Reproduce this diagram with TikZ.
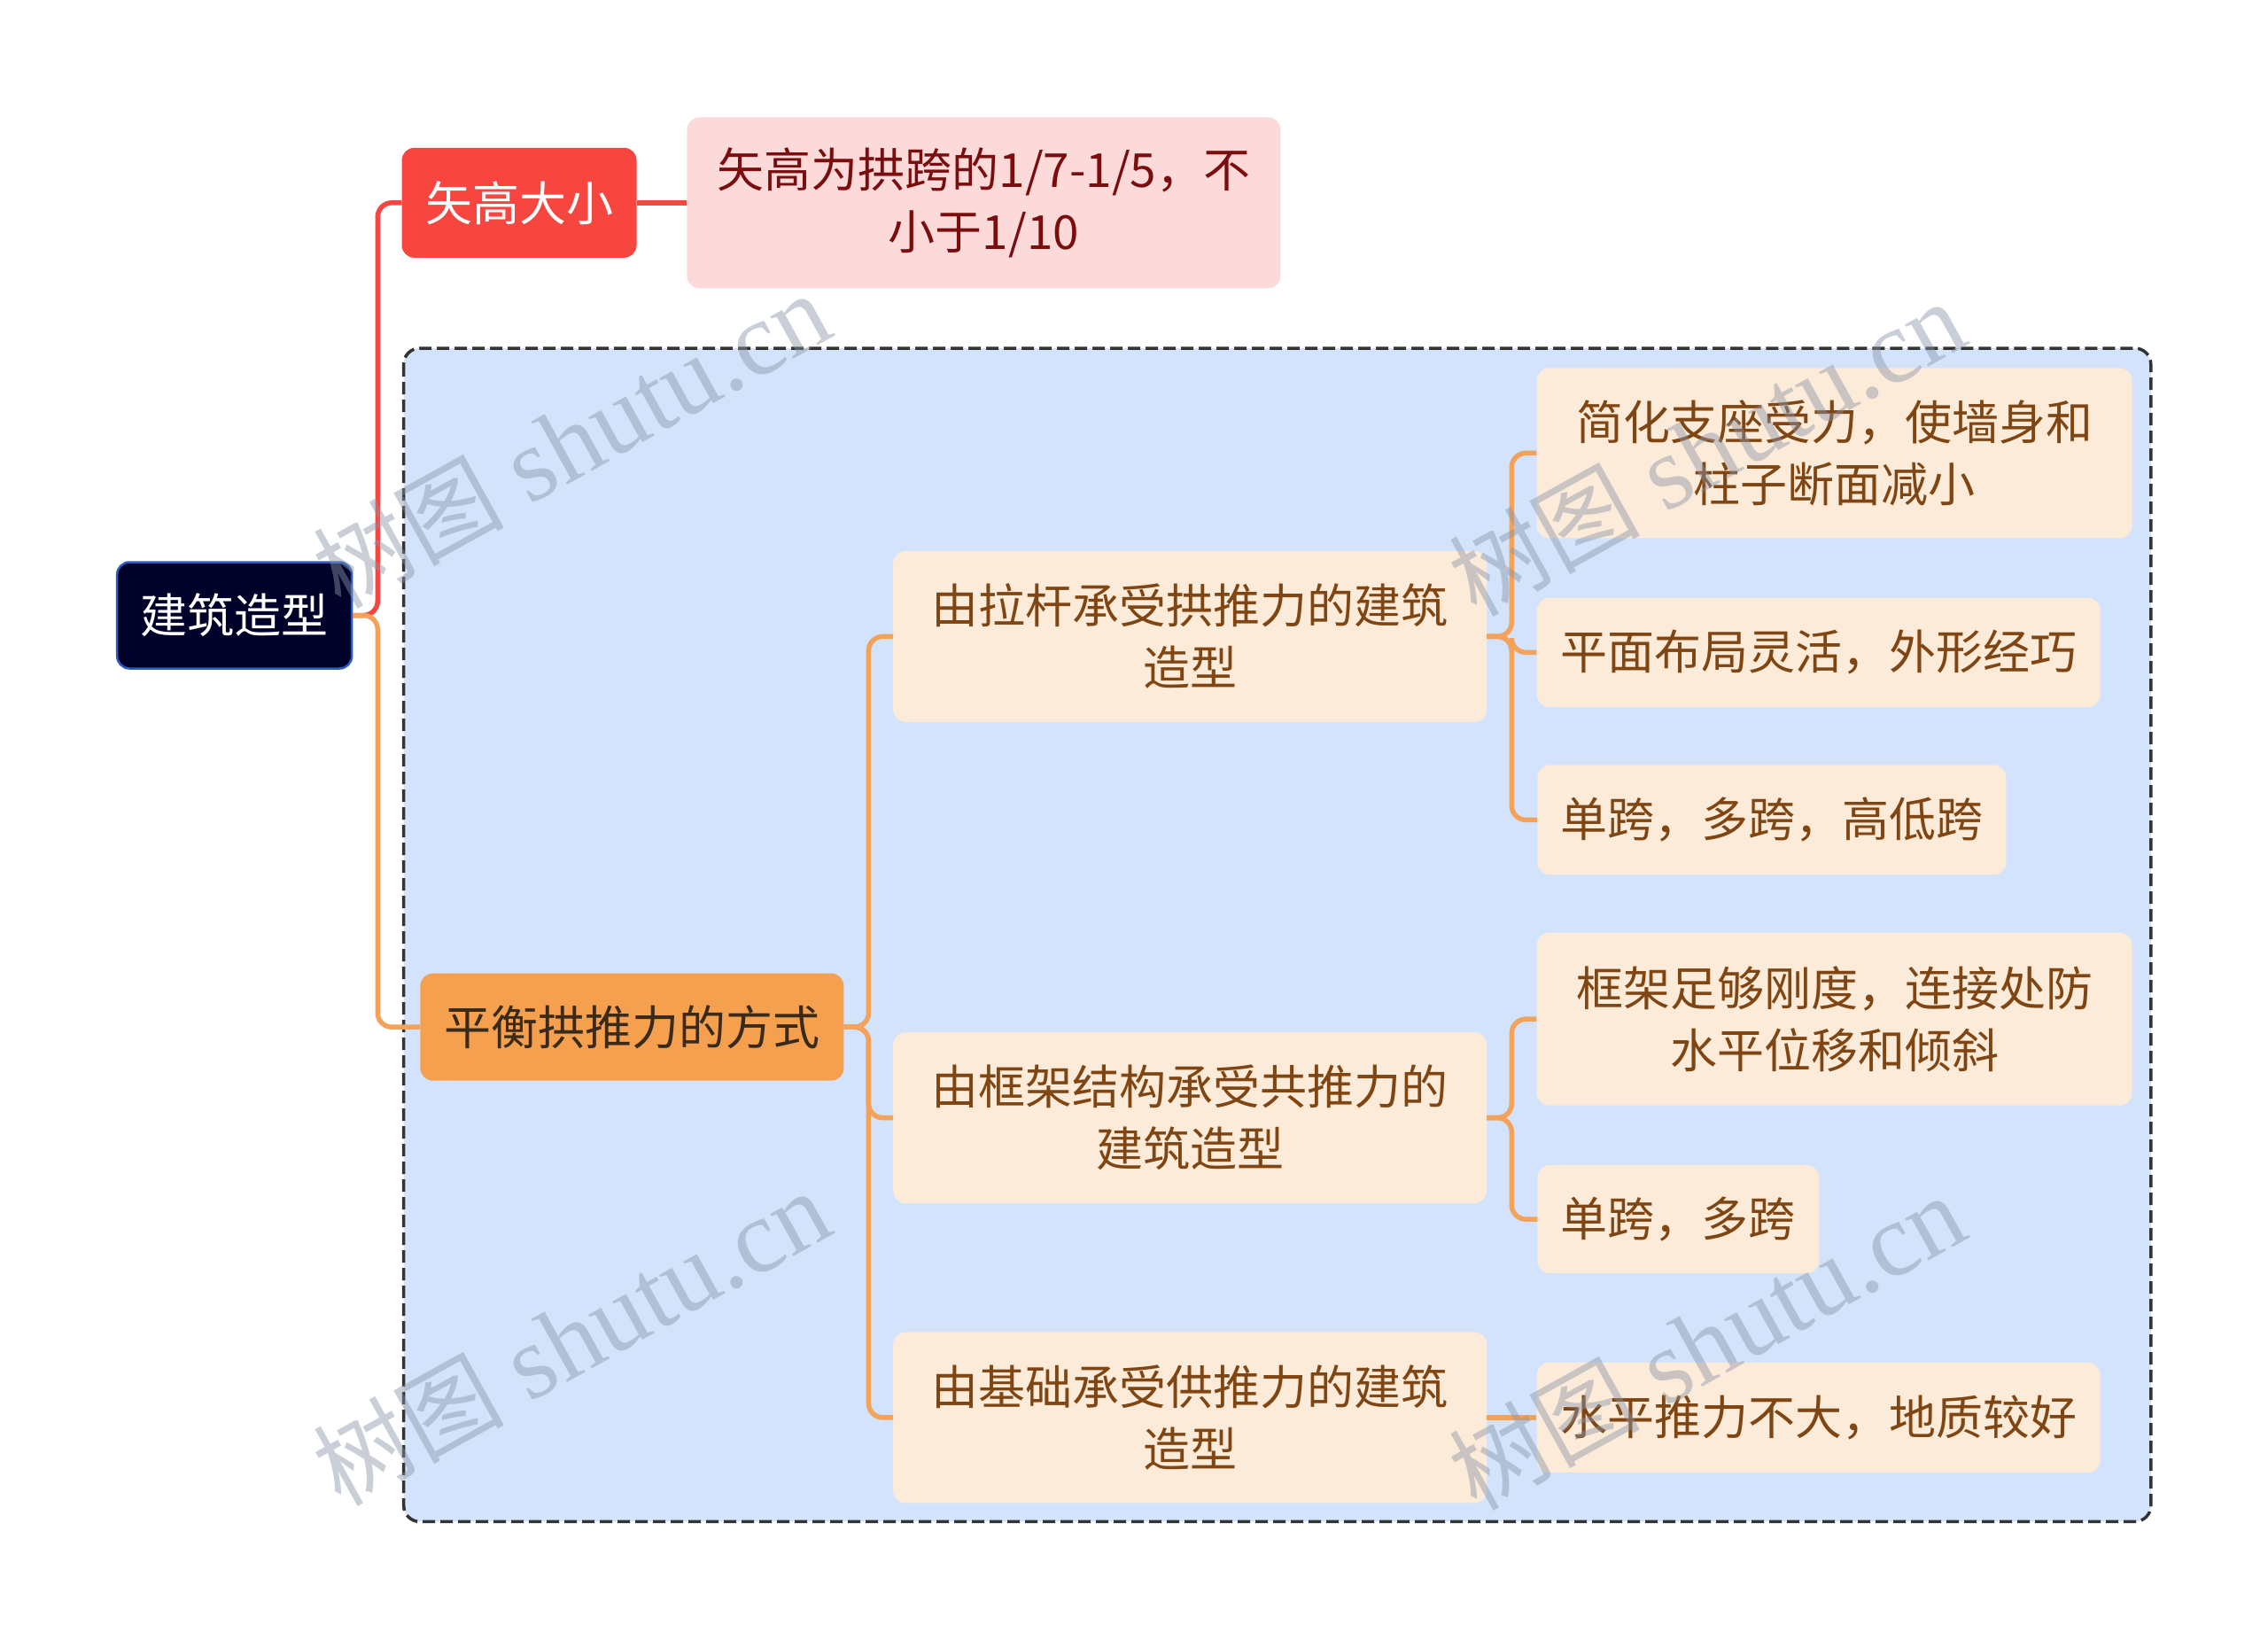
\documentclass[tikz,border=0pt]{standalone}
\usepackage{fontspec}
\setmainfont{Noto Sans CJK SC}
\newfontfamily\wmcjk{Noto Sans CJK SC}
\newfontfamily\wmlat{Liberation Serif}
\definecolor{rootfill}{HTML}{00022A}
\definecolor{rootedge}{HTML}{2B5CC0}
\definecolor{redc}{HTML}{F7453F}
\definecolor{pinkfill}{HTML}{FDDADA}
\definecolor{pinktext}{HTML}{7A0E0E}
\definecolor{orfill}{HTML}{F5A04E}
\definecolor{ortext}{HTML}{3A2A1A}
\definecolor{orline}{HTML}{F2A25A}
\definecolor{lvfill}{HTML}{FDEBD9}
\definecolor{lvtext}{HTML}{7F4512}
\definecolor{bluebg}{HTML}{D4E3FC}
\definecolor{dashc}{HTML}{333333}
\definecolor{wmc}{HTML}{8A96A8}
\tikzset{
  box/.style={rectangle, rounded corners=14pt, inner sep=0pt, align=center,
    font=\fontsize{53}{70}\selectfont},
  rootbox/.style={box, fill=rootfill, draw=rootedge, line width=2.5pt, text=white},
  redbox/.style={box, fill=redc, text=white},
  pinkbox/.style={box, fill=pinkfill, text=pinktext},
  orbox/.style={box, fill=orfill, text=ortext},
  lvbox/.style={box, fill=lvfill, text=lvtext},
  redlink/.style={draw=redc, line width=5.5pt, rounded corners=16pt},
  orlink/.style={draw=orline, line width=5.5pt, rounded corners=16pt},
  dashbox/.style={draw=dashc, fill=bluebg, line width=3.5pt, dash pattern=on 14pt off 6pt, rounded corners=18pt},
  wmark/.style={text=wmc, opacity=0.45, rotate=29, inner sep=0pt}
}
\newcommand{\wmstr}{{\wmcjk\fontsize{108}{108}\selectfont 树图}\hspace{28pt}{\wmlat\fontsize{118}{118}\selectfont shutu.cn}}
\begin{document}
\begin{tikzpicture}[x=0.995pt,y=-0.995pt]
\useasboundingbox (0,0) rectangle (2572.9,1860.3);
\fill[white] (0,0) rectangle (2572.9,1860.3);
\path[dashbox] (458,395) rectangle (2440,1726);

\node[rootbox, minimum width=265pt, minimum height=120pt] (root) at (266,698) {建筑造型};
\node[redbox, minimum width=265pt, minimum height=124pt] (h) at (589,230) {矢高大小};
\node[pinkbox, minimum width=670pt, minimum height=193pt] (hd) at (1116,230) {矢高为拱跨的1/7-1/5，不\\小于1/10};
\node[orbox, minimum width=478pt, minimum height=121pt] (p) at (717,1165) {平衡拱推力的方式};

\node[lvbox, minimum width=670pt, minimum height=193pt] (a) at (1350,722) {由拉杆承受拱推力的建筑\\造型};
\node[lvbox, minimum width=670pt, minimum height=193pt] (b) at (1350,1268) {由框架结构承受共推力的\\建筑造型};
\node[lvbox, minimum width=670pt, minimum height=193pt] (c) at (1350,1608) {由基础承受供推力的建筑\\造型};

\node[lvbox, minimum width=672pt, minimum height=192pt] (a1) at (2081,514) {简化支座受力，使墙身和\\柱子断面减小};
\node[lvbox, minimum width=636pt, minimum height=123pt] (a2) at (2063,740) {平面布局灵活，外形经巧};
\node[lvbox, minimum width=529pt, minimum height=124pt] (a3) at (2010,930) {单跨，多跨，高低跨};
\node[lvbox, minimum width=672pt, minimum height=195pt] (b1) at (2081,1156) {框架足够刚度，连接处防\\水平位移和倾斜};
\node[lvbox, minimum width=318pt, minimum height=122pt] (b2) at (1904,1383) {单跨，多跨};
\node[lvbox, minimum width=636pt, minimum height=124pt] (c1) at (2063,1608) {水平推力不大，地质较好};

\path[redlink] (root.east) -- ++(28,0) |- (h.west);
\path[orlink] (root.east) -- ++(28,0) |- (p.west);
\path[redlink] (h.east) -- (hd.west);

\path[orlink] (p.east) -- ++(28,0) |- (a.west);
\path[orlink] (p.east) -- ++(28,0) |- (b.west);
\path[orlink] (p.east) -- ++(28,0) |- (c.west);

\path[orlink] (a.east) -- ++(28,0) |- (a1.west);
\path[orlink] (a.east) -- ++(28,0) |- (a2.west);
\path[orlink] (a.east) -- ++(28,0) |- (a3.west);
\path[orlink] (b.east) -- ++(28,0) |- (b1.west);
\path[orlink] (b.east) -- ++(28,0) |- (b2.west);
\path[orlink] (c.east) -- (c1.west);

\node[wmark] (w1) at (648,500) {\wmstr};
\node[wmark] (w2) at (648,1518) {\wmstr};
\node[wmark] (w3) at (1936,509) {\wmstr};
\node[wmark] (w4) at (1936,1523) {\wmstr};
\end{tikzpicture}
\end{document}
